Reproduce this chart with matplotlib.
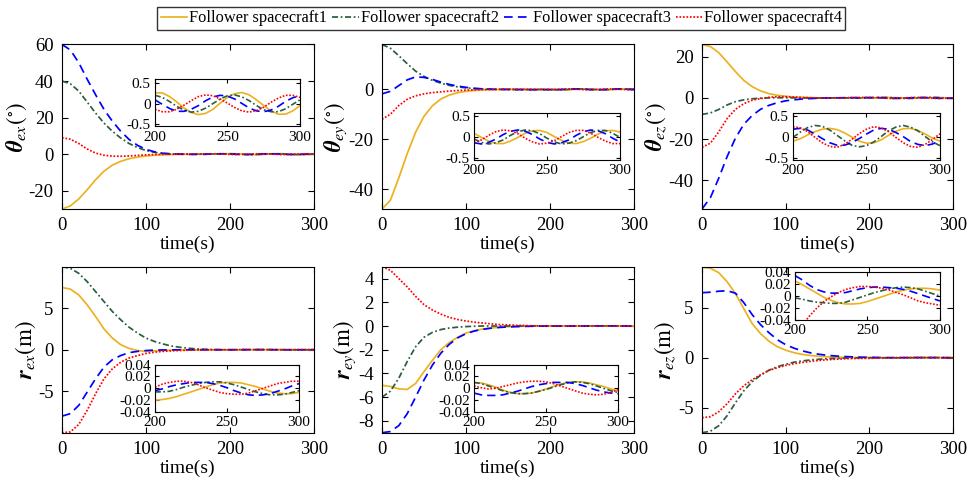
import numpy as np
import matplotlib.pyplot as plt

plt.rcParams['font.family'] = ['Liberation Serif', 'DejaVu Serif']
plt.rcParams['mathtext.fontset'] = 'stix'
plt.rcParams['axes.unicode_minus'] = False

# sample times: transient part every 10 s, steady part every 5 s
t_head = np.arange(0, 200, 10)
t_tail = np.arange(200, 301, 5)

names = ['Follower spacecraft1', 'Follower spacecraft2',
         'Follower spacecraft3', 'Follower spacecraft4']
colors = ['#EDB120', '#2A5E3C', '#0000FF', '#FF0000']
styles = ['-', (0, (3.5, 1.5, 1, 1.5)), (0, (5, 3)), (0, (1, 1))]

# attitude errors (deg), order: spacecraft 1..4
theta_ex_head = [
    [-30, -28.3, -24.5, -19.5, -14, -9.3, -6.0, -3.9, -2.5, -1.6, -1.0, -0.6, -0.35, -0.2, -0.1, -0.05, 0.0, 0.05, 0.1, 0.2],
    [40, 38.5, 34.5, 28.5, 22.5, 17, 12.5, 8.8, 5.8, 3.6, 2.0, 1.0, 0.4, 0.1, 0.0, -0.05, -0.1, -0.05, 0.05, 0.15],
    [60, 57, 50, 41, 32.5, 24.5, 18, 12.5, 8, 4.8, 2.6, 1.3, 0.5, 0.15, 0.0, -0.1, -0.1, -0.05, 0.12, 0.2],
    [9, 8.2, 5.8, 2.8, 0.6, -0.6, -1.1, -1.15, -1.0, -0.7, -0.4, -0.2, -0.1, -0.05, 0.0, 0.05, 0.1, 0.15, 0.2, 0.07],
]
theta_ex_tail = [
    [0.26, 0.26, 0.17, 0.04, -0.11, -0.22, -0.27, -0.24, -0.14, 0.01, 0.15, 0.24, 0.27, 0.21, 0.09, -0.05, -0.18, -0.26, -0.26, -0.18, -0.05],
    [0.20, 0.15, 0.05, -0.07, -0.16, -0.21, -0.19, -0.11, 0.0, 0.11, 0.19, 0.21, 0.16, 0.07, -0.05, -0.15, -0.20, -0.20, -0.13, -0.02, 0.09],
    [0.09, -0.02, -0.12, -0.19, -0.19, -0.14, -0.05, 0.07, 0.16, 0.20, 0.18, 0.11, 0.0, -0.11, -0.18, -0.20, -0.16, -0.07, 0.05, 0.14, 0.19],
    [-0.14, -0.20, -0.20, -0.14, -0.04, 0.07, 0.17, 0.21, 0.19, 0.11, 0.01, -0.10, -0.18, -0.21, -0.17, -0.09, 0.03, 0.13, 0.20, 0.20, 0.15],
]

theta_ey_head = [
    [-48, -44.5, -35.5, -25.8, -17.2, -10.8, -6.6, -3.9, -2.3, -1.35, -0.8, -0.45, -0.25, -0.12, -0.05, 0.0, 0.02, 0.03, 0.05, 0.08],
    [18, 16.5, 13.5, 10.3, 7.3, 5.2, 3.6, 2.5, 1.6, 1.0, 0.6, 0.3, 0.15, 0.05, 0.0, -0.05, -0.1, -0.12, -0.1, -0.05],
    [-1.8, -0.8, 1.5, 3.8, 5.0, 4.8, 4.0, 2.9, 2.0, 1.3, 0.8, 0.4, 0.2, 0.05, 0.0, -0.05, -0.1, -0.12, -0.15, -0.15],
    [-12, -10, -6.5, -4, -2.6, -1.8, -1.3, -1.0, -0.7, -0.5, -0.3, -0.2, -0.1, -0.05, 0.0, 0.05, 0.05, 0.0, -0.05, -0.1],
]
theta_ey_tail = [
    [0.09, -0.01, -0.10, -0.16, -0.16, -0.10, -0.01, 0.09, 0.15, 0.16, 0.11, 0.01, -0.08, -0.15, -0.16, -0.11, -0.03, 0.07, 0.15, 0.16, 0.12],
    [-0.05, -0.13, -0.17, -0.14, -0.07, 0.04, 0.13, 0.17, 0.15, 0.08, -0.03, -0.12, -0.17, -0.15, -0.09, 0.01, 0.11, 0.16, 0.16, 0.09, -0.01],
    [-0.14, -0.17, -0.13, -0.05, 0.06, 0.14, 0.17, 0.14, 0.06, -0.05, -0.13, -0.17, -0.14, -0.07, 0.04, 0.13, 0.17, 0.15, 0.08, -0.03, -0.12],
    [-0.14, -0.07, 0.04, 0.13, 0.17, 0.15, 0.08, -0.03, -0.12, -0.17, -0.15, -0.09, 0.01, 0.11, 0.16, 0.16, 0.09, -0.01, -0.10, -0.16, -0.16],
]

theta_ez_head = [
    [26, 25, 22, 17.5, 12.8, 8.5, 5.5, 3.4, 2.1, 1.3, 0.8, 0.5, 0.3, 0.15, 0.05, 0.0, -0.05, -0.05, -0.05, -0.08],
    [-8, -7.3, -5.6, -3.4, -1.8, -0.9, -0.4, -0.1, 0.05, 0.1, 0.1, 0.05, 0.0, -0.05, -0.05, 0.0, 0.05, 0.05, 0.0, -0.05],
    [-54, -48.5, -39, -28.5, -19.5, -12.8, -8.5, -5.5, -3.6, -2.3, -1.4, -0.9, -0.5, -0.3, -0.1, 0.0, 0.05, 0.1, 0.12, 0.15],
    [-24, -22, -16.5, -10, -5.5, -2.8, -1.1, -0.3, 0.3, 0.6, 0.6, 0.4, 0.2, 0.1, 0.0, -0.05, 0.0, 0.1, 0.2, 0.25],
]
theta_ez_tail = [
    [-0.10, -0.04, 0.05, 0.13, 0.19, 0.21, 0.18, 0.10, 0.0, -0.10, -0.15, -0.14, -0.07, 0.04, 0.14, 0.20, 0.21, 0.16, 0.07, -0.03, -0.10],
    [-0.01, 0.12, 0.23, 0.28, 0.26, 0.17, 0.04, -0.09, -0.20, -0.24, -0.21, -0.12, 0.01, 0.15, 0.24, 0.28, 0.24, 0.15, 0.01, -0.12, -0.21],
    [0.19, 0.21, 0.17, 0.07, -0.04, -0.14, -0.20, -0.20, -0.14, -0.04, 0.07, 0.17, 0.21, 0.19, 0.11, 0.01, -0.11, -0.18, -0.21, -0.17, -0.09],
    [0.25, 0.22, 0.13, -0.01, -0.14, -0.23, -0.25, -0.18, -0.06, 0.08, 0.19, 0.25, 0.22, 0.13, -0.01, -0.14, -0.23, -0.25, -0.18, -0.06, 0.08],
]

# position errors (m)
r_ex_head = [
    [7.5, 7.3, 6.6, 5.4, 4.0, 2.5, 1.4, 0.6, 0.15, -0.1, -0.2, -0.15, -0.1, -0.05, -0.03, -0.02, -0.02, -0.02, -0.02, -0.02],
    [10, 9.8, 9.2, 8.2, 7.0, 5.8, 4.6, 3.6, 2.7, 2.0, 1.4, 1.0, 0.7, 0.45, 0.3, 0.18, 0.1, 0.05, 0.02, 0.0],
    [-8, -7.7, -6.7, -5.1, -3.5, -2.1, -1.2, -0.7, -0.35, -0.2, -0.1, -0.05, -0.03, -0.02, -0.01, -0.01, 0.0, 0.0, 0.0, -0.002],
    [-10, -9.9, -9.0, -7.3, -5.3, -3.5, -2.3, -1.5, -1.0, -0.7, -0.45, -0.3, -0.2, -0.14, -0.1, -0.06, -0.04, -0.02, -0.01, 0.0],
]
r_ex_tail = [
    [-0.020, -0.019, -0.017, -0.014, -0.010, -0.006, -0.002, 0.002, 0.006, 0.009, 0.010, 0.010, 0.009, 0.006, 0.003, -0.001, -0.005, -0.008, -0.009, -0.009, -0.007],
    [-0.006, -0.006, -0.005, -0.002, 0.002, 0.005, 0.008, 0.010, 0.011, 0.011, 0.009, 0.006, 0.002, -0.002, -0.006, -0.009, -0.011, -0.011, -0.010, -0.007, -0.004],
    [-0.004, -0.001, 0.003, 0.006, 0.008, 0.010, 0.010, 0.010, 0.008, 0.005, 0.001, -0.004, -0.008, -0.011, -0.012, -0.011, -0.009, -0.005, -0.001, 0.004, 0.008],
    [0.002, 0.007, 0.010, 0.012, 0.012, 0.010, 0.006, 0.001, -0.003, -0.007, -0.009, -0.010, -0.010, -0.008, -0.004, 0.000, 0.004, 0.008, 0.010, 0.012, 0.012],
]

r_ey_head = [
    [-5, -5.1, -5.3, -5.35, -4.85, -3.85, -2.9, -2.0, -1.4, -0.95, -0.6, -0.4, -0.25, -0.17, -0.1, -0.06, -0.04, -0.02, -0.01, 0.0],
    [-6, -5.5, -4.4, -3.0, -1.75, -0.95, -0.54, -0.3, -0.17, -0.1, -0.05, -0.02, 0.0, 0.0, 0.0, 0.0, 0.0, 0.0, 0.005, 0.008],
    [-9, -8.9, -8.4, -7.4, -6.0, -4.55, -3.3, -2.3, -1.55, -1.0, -0.65, -0.42, -0.28, -0.18, -0.12, -0.08, -0.05, -0.03, -0.02, -0.01],
    [5, 4.7, 4.0, 3.3, 2.5, 1.8, 1.35, 1.0, 0.73, 0.55, 0.42, 0.32, 0.25, 0.18, 0.12, 0.09, 0.06, 0.04, 0.02, 0.01],
]
r_ey_tail = [
    [0.010, 0.009, 0.006, 0.002, -0.003, -0.007, -0.009, -0.009, -0.008, -0.005, -0.001, 0.003, 0.007, 0.010, 0.011, 0.011, 0.009, 0.006, 0.003, -0.001, -0.004],
    [0.010, 0.008, 0.004, 0.000, -0.004, -0.007, -0.009, -0.009, -0.008, -0.005, -0.002, 0.002, 0.006, 0.009, 0.011, 0.010, 0.008, 0.004, 0.000, -0.004, -0.007],
    [-0.008, -0.011, -0.012, -0.012, -0.011, -0.008, -0.005, -0.001, 0.003, 0.006, 0.008, 0.010, 0.010, 0.010, 0.008, 0.005, 0.001, -0.003, -0.006, -0.008, -0.009],
    [0.004, 0.001, -0.001, 0.000, 0.003, 0.006, 0.009, 0.011, 0.012, 0.012, 0.011, 0.008, 0.004, 0.000, -0.004, -0.008, -0.010, -0.011, -0.010, -0.007, -0.002],
]

r_ez_head = [
    [9.05, 8.95, 8.5, 7.6, 6.4, 4.9, 3.4, 2.4, 1.65, 1.1, 0.75, 0.5, 0.33, 0.22, 0.14, 0.09, 0.05, 0.03, 0.025, 0.025],
    [-7.5, -7.35, -6.8, -5.8, -4.5, -3.3, -2.4, -1.75, -1.25, -0.9, -0.65, -0.45, -0.32, -0.22, -0.15, -0.1, -0.07, -0.04, -0.02, -0.01],
    [6.5, 6.55, 6.65, 6.7, 6.45, 5.5, 4.3, 3.3, 2.5, 1.8, 1.3, 0.95, 0.68, 0.48, 0.34, 0.24, 0.17, 0.12, 0.08, 0.05],
    [-6, -5.9, -5.4, -4.6, -3.6, -2.8, -2.2, -1.7, -1.27, -1.0, -0.77, -0.6, -0.47, -0.36, -0.27, -0.2, -0.15, -0.11, -0.08, -0.07],
]
r_ez_tail = [
    [0.025, 0.019, 0.012, 0.005, -0.002, -0.007, -0.011, -0.013, -0.013, -0.012, -0.009, -0.005, -0.001, 0.003, 0.007, 0.010, 0.012, 0.013, 0.013, 0.012, 0.010],
    [-0.003, -0.005, -0.008, -0.010, -0.011, -0.012, -0.012, -0.010, -0.006, -0.002, 0.002, 0.006, 0.009, 0.012, 0.014, 0.015, 0.014, 0.012, 0.008, 0.004, 0.000],
    [0.034, 0.027, 0.018, 0.011, 0.007, 0.005, 0.005, 0.006, 0.009, 0.012, 0.014, 0.015, 0.015, 0.014, 0.013, 0.011, 0.008, 0.004, 0.000, -0.004, -0.008],
    [-0.065, -0.048, -0.033, -0.020, -0.009, -0.001, 0.006, 0.011, 0.014, 0.016, 0.016, 0.015, 0.013, 0.010, 0.006, 0.002, -0.003, -0.008, -0.011, -0.013, -0.015],
]

panels = [
    (theta_ex_head, theta_ex_tail, r'$\boldsymbol{\theta}_{ex}(^{\circ})$', (-30, 60), [-20, 0, 20, 40, 60]),
    (theta_ey_head, theta_ey_tail, r'$\boldsymbol{\theta}_{ey}(^{\circ})$', (-48, 18), [-40, -20, 0]),
    (theta_ez_head, theta_ez_tail, r'$\boldsymbol{\theta}_{ez}(^{\circ})$', (-54, 26), [-40, -20, 0, 20]),
    (r_ex_head, r_ex_tail, r'$\boldsymbol{r}_{ex}(\mathrm{m})$', (-10, 10), [-5, 0, 5]),
    (r_ey_head, r_ey_tail, r'$\boldsymbol{r}_{ey}(\mathrm{m})$', (-9, 5), [-8, -6, -4, -2, 0, 2, 4]),
    (r_ez_head, r_ez_tail, r'$\boldsymbol{r}_{ez}(\mathrm{m})$', (-7.5, 9.1), [-5, 0, 5]),
]

main_boxes = [
    [0.0637, 0.5673, 0.259, 0.3406], [0.3926, 0.5673, 0.259, 0.3406], [0.7215, 0.5673, 0.258, 0.3406],
    [0.0637, 0.1041, 0.259, 0.3437], [0.3926, 0.1041, 0.259, 0.3437], [0.7215, 0.1041, 0.258, 0.3437],
]
inset_boxes = [
    [0.1593, 0.7381, 0.149, 0.0977], [0.4872, 0.6687, 0.150, 0.0979], [0.8150, 0.6687, 0.151, 0.0979],
    [0.1593, 0.1470, 0.148, 0.0980], [0.4872, 0.1470, 0.148, 0.0980], [0.8170, 0.3369, 0.149, 0.1000],
]

fig = plt.figure(figsize=(9.73, 4.83), dpi=100)
handles = []
for i, (head, tail, ylab, ylim, yticks) in enumerate(panels):
    ax = fig.add_axes(main_boxes[i])
    for k in range(4):
        y = np.concatenate([head[k], tail[k]])
        t = np.concatenate([t_head, t_tail])
        ln, = ax.plot(t, y, color=colors[k], linestyle=styles[k], lw=1.25, label=names[k])
        if i == 0:
            handles.append(ln)
    ax.set_xlim(0, 300)
    ax.set_ylim(*ylim)
    ax.set_xticks([0, 100, 200, 300])
    ax.set_yticks(yticks)
    ax.tick_params(direction='in', top=True, right=True, length=4, labelsize=13.5, pad=6)
    ax.set_xlabel('time(s)', fontsize=14, labelpad=1)
    ax.set_ylabel(ylab, fontsize=16.5, labelpad=0)

    ins = fig.add_axes(inset_boxes[i])
    for k in range(4):
        ins.plot(t_tail, tail[k], color=colors[k], linestyle=styles[k], lw=1.2)
    ins.set_xlim(200, 300)
    ins.set_xticks([200, 250, 300])
    if i < 3:
        ins.set_ylim(-0.56, 0.59)
        ins.set_yticks([-0.5, 0, 0.5])
        ins.set_yticklabels(['-0.5', '0', '0.5'])
    else:
        ins.set_ylim(-0.04, 0.04)
        ins.set_yticks([-0.04, -0.02, 0, 0.02, 0.04])
        ins.set_yticklabels(['-0.04', '-0.02', '0', '0.02', '0.04'])
    ins.tick_params(direction='in', top=True, right=True, length=3, labelsize=11, pad=3)

fig.legend(handles=handles, loc='center', bbox_to_anchor=(0.5154, 0.9617), ncol=4,
           fontsize=11.8, frameon=True, fancybox=False, edgecolor='black',
           handlelength=1.6, handletextpad=0.15, columnspacing=0.3, borderpad=0.2,
           borderaxespad=0)

fig.savefig('out.png', dpi=100)
